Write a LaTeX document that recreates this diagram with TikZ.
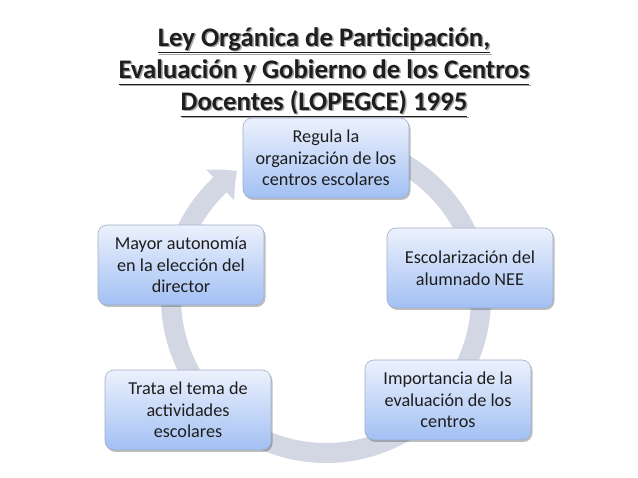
\documentclass[tikz,border=0pt]{standalone}
\usepackage{fontspec}
\setmainfont{Carlito}
\usetikzlibrary{arrows.meta,bending,shadows}
\definecolor{ringc}{RGB}{210,215,227}
\definecolor{boxtop}{RGB}{236,241,252}
\definecolor{boxbot}{RGB}{162,192,244}
\definecolor{boxline}{RGB}{160,175,200}
\definecolor{txt}{RGB}{30,30,30}
\tikzset{
  cyclebox/.style={rectangle, rounded corners=9pt, draw=boxline, line width=0.6pt,
    top color=boxtop, bottom color=boxbot, minimum width=166pt, minimum height=80pt,
    align=center, text=txt,
    font=\fontsize{18.2}{21.5}\selectfont,
    drop shadow={shadow xshift=1.5pt, shadow yshift=-2pt, fill=black, opacity=0.25}},
  titletext/.style={align=center, font=\fontsize{26.8}{32}\selectfont\bfseries},
  ring/.style={draw=ringc, line width=20pt}
}
\begin{document}
\begin{tikzpicture}[x=1pt,y=-1pt]
\useasboundingbox (0,0) rectangle (638,478);
\fill[white] (0,0) rectangle (638,478);
% title with shadow
\node[titletext, text=black!35] (titleshadow) at (325.5,73.5) {\underline{Ley Orgánica de Participación,}\\\underline{Evaluación y Gobierno de los Centros}\\\underline{Docentes (LOPEGCE) 1995}};
\node[titletext, text=txt] (title) at (324,72) {\underline{Ley Orgánica de Participación,}\\\underline{Evaluación y Gobierno de los Centros}\\\underline{Docentes (LOPEGCE) 1995}};
% ring
\coordinate (c) at (326,298);
\draw[ring, -{Triangle[length=22pt,width=40pt,bend]}] ([shift={(85:155pt)}]c) arc[start angle=85, end angle=-235, radius=155pt];
% boxes
\node[cyclebox] (b1) at (326,158) {Regula la\\organización de los\\centros escolares};
\node[cyclebox] (b2) at (470,268) {Escolarización del\\alumnado NEE};
\node[cyclebox] (b3) at (448,400) {Importancia de la\\evaluación de los\\centros};
\node[cyclebox] (b4) at (188,410) {Trata el tema de\\actividades\\escolares};
\node[cyclebox] (b5) at (181,265) {Mayor autonomía\\en la elección del\\director};
\end{tikzpicture}
\end{document}
